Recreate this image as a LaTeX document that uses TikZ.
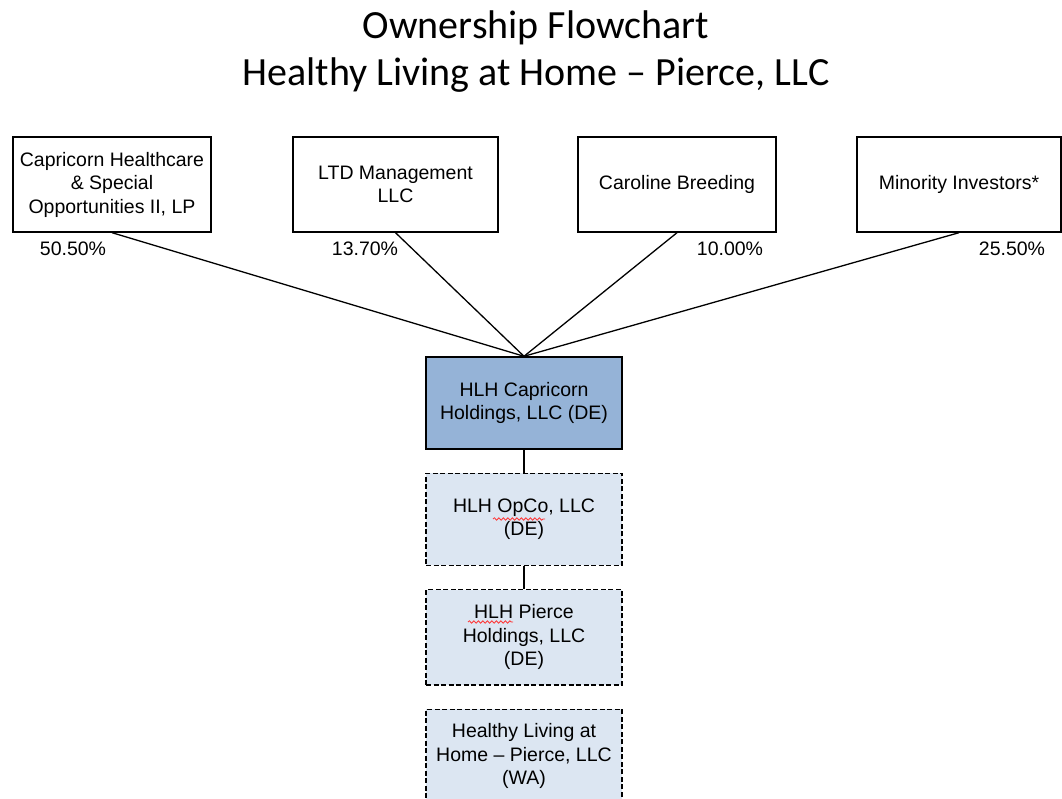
\documentclass[tikz,border=0pt]{standalone}
\usepackage{fontspec}
\setmainfont{Liberation Sans}
\newfontfamily\titlefont[Ligatures=TeX]{Carlito}
\usepackage{tikz}
\usetikzlibrary{positioning}
\usetikzlibrary{decorations.pathmorphing}
\definecolor{hubblue}{HTML}{95B3D7}
\definecolor{chainblue}{HTML}{DCE6F2}
\newcommand{\pagew}{1062}
\newcommand{\pageh}{798}
\newcommand{\ownery}{613.5}
\newcommand{\ownerh}{95pt}
\newcommand{\pcty}{549}
\newcommand{\chainx}{524}
\newcommand{\chainw}{196pt}
\newcommand{\chaingap}{23pt}
\newcommand{\boxfont}{\fontsize{19.5}{23.5}\selectfont}
\tikzset{
  owner/.style={draw, line width=1.4pt, minimum height=\ownerh,
    inner sep=2pt, align=center, font=\boxfont},
  hubbox/.style={owner, fill=hubblue, minimum width=\chainw},
  chainbox/.style={owner, fill=chainblue, minimum width=\chainw,
    dash pattern=on 5pt off 2.5pt},
  pct/.style={font=\boxfont, inner sep=0pt},
  share/.style={line width=1.3pt},
  spell/.style={red!80!white, line width=0.8pt,
    decorate, decoration={snake, segment length=4.5pt, amplitude=1.2pt}}
}

\begin{document}
\begin{tikzpicture}[x=1pt,y=1pt]
    \useasboundingbox (0,0) rectangle (\pagew,\pageh);
    \clip (0,0) rectangle (\pagew,\pageh);

    % title
    \node[align=center, font={\titlefont\fontsize{40}{47}\selectfont}] (title)
      at (536,746) {Ownership Flowchart\\Healthy Living at Home -- Pierce, LLC};

    % owners
    \begin{scope}
      \node[owner, minimum width=198pt] (cap) at (112,\ownery)
        {Capricorn Healthcare\\\& Special\\Opportunities II, LP};
      \node[owner, minimum width=205pt] (ltd) at (395.5,\ownery)
        {LTD Management\\LLC};
      \node[owner, minimum width=198pt] (caro) at (677,\ownery)
        {Caroline Breeding};
      \node[owner, minimum width=204pt] (minor) at (959,\ownery)
        {Minority Investors*};
    \end{scope}

    % percentages
    \node[pct] (cappct) at (73,\pcty) {50.50\%};
    \node[pct] (ltdpct) at (365,\pcty) {13.70\%};
    \node[pct] (caropct) at (730,\pcty) {10.00\%};
    \node[pct] (minorpct) at (1012,\pcty) {25.50\%};

    % holding chain
    \node[hubbox, minimum height=92pt] (hub) at (\chainx,395)
      {HLH Capricorn\\Holdings, LLC (DE)};
    \node[chainbox, minimum height=92pt, below=\chaingap of hub] (opco)
      {HLH OpCo, LLC\\(DE)};
    \node[chainbox, below=\chaingap of opco] (pierce)
      {HLH Pierce\\Holdings, LLC\\(DE)};
    \node[chainbox, minimum height=94pt, below=\chaingap of pierce] (home)
      {Healthy Living at\\Home -- Pierce, LLC\\(WA)};

    \begin{scope}
      \foreach \own in {cap,ltd,caro,minor}
        \draw[share] (\own.south) -- (hub.north);
      \draw[share] (hub) -- (opco);
      \draw[share] (opco) -- (pierce);
    \end{scope}

    % spell check marks
    \draw[spell] (493,279) -- (545,279);
    \draw[spell] (468,176) -- (513,176);
  \end{tikzpicture}
\end{document}
